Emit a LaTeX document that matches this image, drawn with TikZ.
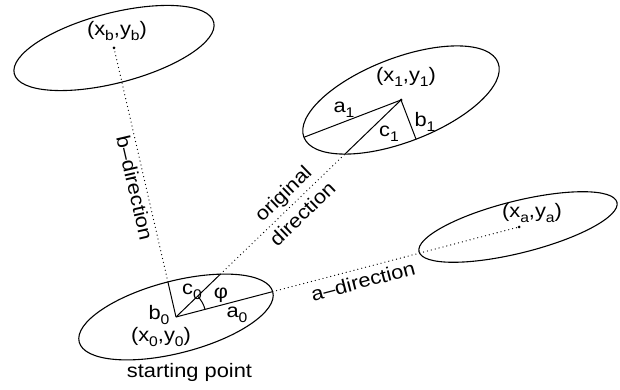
\documentclass[tikz,border=0pt]{standalone}
\usepackage{fontspec}
\setmainfont{Liberation Sans}[FakeStretch=1.12]
\usetikzlibrary{intersections,calc}
\newcommand\mysub[1]{\raisebox{-0.24em}{\fontsize{14}{14}\selectfont #1}}
\begin{document}
\begin{tikzpicture}[x=1pt,y=1pt,
  ell/.style={line width=1.1pt},
  seg/.style={line width=1pt},
  dotline/.style={line width=1.3pt, line cap=round, dash pattern=on 0pt off 4pt},
  lbl/.style={inner sep=0pt, font=\fontsize{19.5}{28}\selectfont},
  ctr/.style={circle, fill, inner sep=0pt, minimum size=3pt}]
\useasboundingbox (0,0) rectangle (620,390);
\coordinate (O0) at (176,73);
\coordinate (O1) at (401,290);
\coordinate (Ob) at (114,342);
\coordinate (Oa) at (519,163);
\begin{scope}[shift={(O0)},rotate=14.5]
  \draw[ell,name path global=E0] (0,0) ellipse[x radius=100,y radius=36];
\end{scope}
\begin{scope}[shift={(O1)},rotate=21]
  \draw[ell,name path global=E1] (0,0) ellipse[x radius=104,y radius=42];
  \coordinate (A1) at (-104,0);
  \coordinate (B1) at (0,-42);
\end{scope}
\begin{scope}[shift={(Ob)},rotate=14.5]
  \draw[ell] (0,0) ellipse[x radius=103,y radius=35];
\end{scope}
\begin{scope}[shift={(518,163)},rotate=14]
  \draw[ell] (0,0) ellipse[x radius=102,y radius=26];
\end{scope}
\path[name path=La] (O0) -- (Oa);
\path[name path=Lb] (O0) -- (Ob);
\path[name path=Lc] (O0) -- (O1);
\path[name intersections={of=E0 and La,by=A0}];
\path[name intersections={of=E0 and Lb,by=B0}];
\path[name intersections={of=E0 and Lc,by=C0}];
\path[name intersections={of=E1 and Lc,by=C1}];
\draw[seg] (O0) -- (A0);
\draw[seg] (O0) -- (B0);
\draw[seg] (O0) -- (C0);
\draw[seg] (O1) -- (A1);
\draw[seg] (O1) -- (B1);
\draw[seg] (O1) -- (C1);
\draw[dotline] (A0) -- (Oa);
\draw[dotline] (B0) -- (Ob);
\draw[dotline] (C0) -- (C1);
\draw[seg] (O0) ++(14.7:30) arc[start angle=14.7,end angle=44,radius=30];
\node[ctr] (P1) at (O1) {};
\node[ctr] (Pb) at (Ob) {};
\node[ctr] (Pa) at (Oa) {};
% labels
\node[lbl] (tb) at (117,359) {(x\mysub{b},y\mysub{b})};
\node[lbl] (t1) at (406,313) {(x\mysub{1},y\mysub{1})};
\node[lbl] (ta) at (532,177) {(x\mysub{a},y\mysub{a})};
\node[lbl] (t0) at (161,53) {(x\mysub{0},y\mysub{0})};
\node[lbl,anchor=base] (sp) at (189.5,12.3) {starting point};
\node[lbl] (la1) at (344,280) {a\mysub{1}};
\node[lbl] (lb1) at (425,268) {b\mysub{1}};
\node[lbl] (lc1) at (389,256) {c\mysub{1}};
\node[lbl] (lb0) at (159,75) {b\mysub{0}};
\node[lbl] (lc0) at (192,98) {c\mysub{0}};
\node[lbl] (la0) at (237,75) {a\mysub{0}};
\node[lbl] (phi) at (221,95) {φ};
\node[lbl,rotate=14.7] (adir) at (363,109) {a–direction};
\node[lbl,rotate=-77] (bdir) at (135,202) {b–direction};
\node[lbl,rotate=44,align=center] (odir) at (292.5,186.5) {original\\direction};
\end{tikzpicture}
\end{document}
